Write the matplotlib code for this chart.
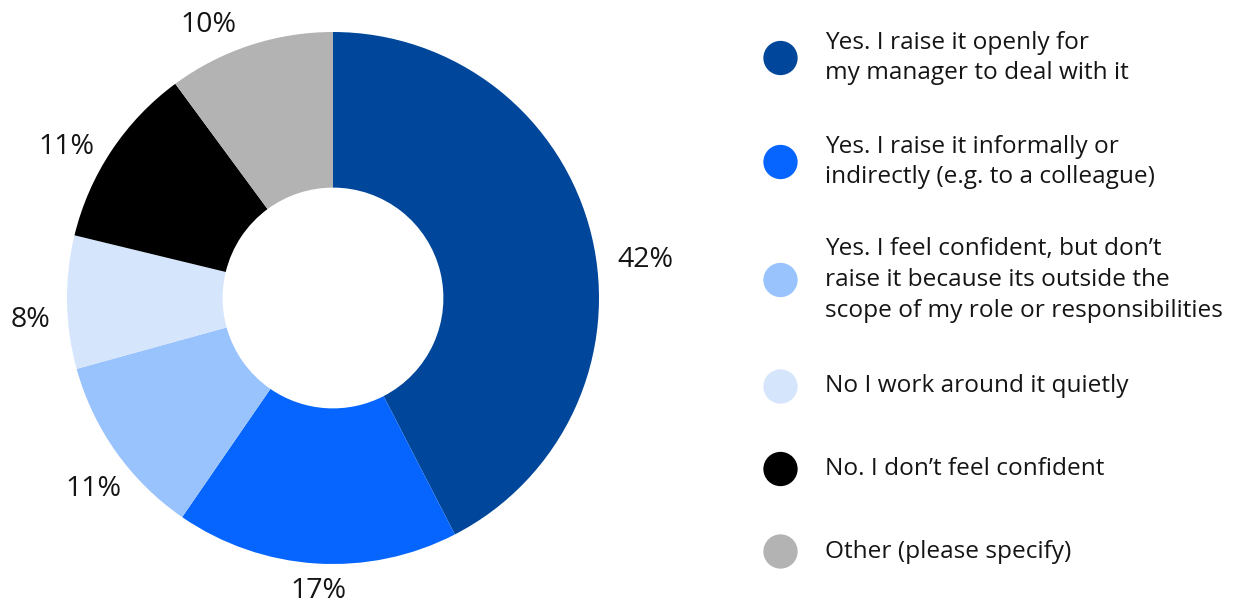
import matplotlib
matplotlib.use("Agg")
import matplotlib.pyplot as plt

plt.rcParams['font.family'] = ['Open Sans', 'DejaVu Sans']

categories = [
    "Yes. I raise it openly for\nmy manager to deal with it",
    "Yes. I raise it informally or\nindirectly (e.g. to a colleague)",
    "Yes. I feel confident, but don\u2019t\nraise it because its outside the\nscope of my role or responsibilities",
    "No I work around it quietly",
    "No. I don\u2019t feel confident",
    "Other (please specify)",
]
shares = [42, 17, 11, 8, 11, 10]
colors = ["#00469a", "#0565fe", "#99c3fd", "#d5e6fc", "#000000", "#b3b3b3"]
text_color = "#151515"

W, H = 1239, 605
fig = plt.figure(figsize=(W / 100, H / 100), dpi=100)

# donut centre and radius in pixels
cx, cy, R = 333, 298, 266
lim = 1.25
half = R * lim
ax = fig.add_axes([(cx - half) / W, (H - cy - half) / H, 2 * half / W, 2 * half / H])
ax.set_xlim(-lim, lim)
ax.set_ylim(-lim, lim)
ax.set_aspect('equal')
ax.axis('off')

wedges, texts = ax.pie(
    shares,
    colors=colors,
    startangle=90,
    counterclock=False,
    labels=[f"{v}%" for v in shares],
    labeldistance=1.15,
    radius=1.0,
    wedgeprops=dict(width=0.585, linewidth=0),
    textprops=dict(fontsize=20.5, color=text_color),
)

# percentage labels placed around the ring (pixel positions, y from top)
label_px = [(645, 256), (318, 588), (93, 486), (30, 316), (66, 143), (208, 21)]
for t, (px, py) in zip(texts, label_px):
    t.set_position(((px - cx) / R, (cy - py) / R))
    t.set_ha('center')
    t.set_va('center_baseline')

# legend: coloured dots with wrapped labels, in a pixel-space overlay
lax = fig.add_axes([0, 0, 1, 1])
lax.set_xlim(0, W)
lax.set_ylim(H, 0)
lax.axis('off')
entry_y = [58, 162, 280, 386.5, 469, 551.5]
lax.scatter([780.5] * len(colors), entry_y, s=(34.3 * 0.72) ** 2,
            c=colors, linewidths=0)
for y, lab in zip(entry_y, categories):
    lax.text(825, y, lab, fontsize=17.6, color=text_color, ha='left',
             va='center', linespacing=1.38)

fig.savefig("out.png", dpi=100)
